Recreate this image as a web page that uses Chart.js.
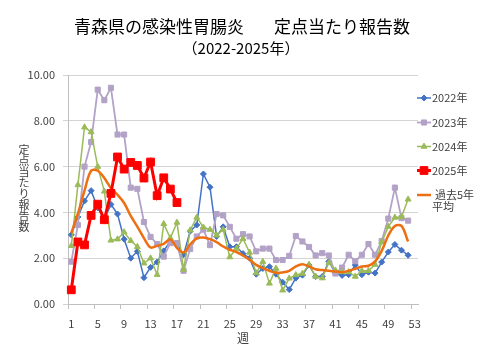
<!DOCTYPE html>
<html lang="ja">
<head>
<meta charset="utf-8">
<title>青森県の感染性胃腸炎 定点当たり報告数</title>
<script src="https://cdn.jsdelivr.net/npm/chart.js@4.4.1/dist/chart.umd.min.js"></script>
<style>
    html, body { margin: 0; padding: 0; background: #fff; }
    #wrap { position: relative; width: 480px; height: 360px; }
</style>
</head>
<body>
<div id="wrap"><canvas id="chart" width="480" height="360"></canvas></div>
<script>
    const weeks = ['1', '2', '3', '4', '5', '6', '7', '8', '9', '10', '11', '12', '13', '14', '15', '16', '17', '18',
        '19', '20', '21', '22', '23', '24', '25', '26', '27', '28', '29', '30', '31', '32', '33', '34', '35', '36',
        '37', '38', '39', '40', '41', '42', '43', '44', '45', '46', '47', '48', '49', '50', '51', '52', '53'];

    const y2022 = [3.02, 3.8, 4.5, 4.95, 4.2, 3.7, 4.35, 3.93, 2.83, 2.0, 2.3, 1.15, 1.6, 1.83, 2.32, 2.75, 2.62, 2.15,
        3.18, 3.45, 5.68, 5.1, 2.95, 3.37, 2.5, 2.5, 2.2, 2.0, 1.3, 1.55, 1.63, 1.3, 0.95, 0.63, 1.13, 1.26,
        1.7, 1.2, 1.2, 1.86, 1.35, 1.25, 1.28, 1.7, 1.28, 1.39, 1.35, 1.83, 2.27, 2.6, 2.35, 2.13];
    const y2023 = [1.85, 3.45, 6.0, 7.07, 9.36, 8.9, 9.44, 7.4, 7.4, 5.08, 5.03, 3.58, 2.93, 2.62, 2.07, 2.66, 2.66, 1.45,
        2.4, 2.95, 3.25, 2.57, 3.93, 3.87, 3.37, 2.85, 3.05, 2.95, 2.3, 2.42, 2.42, 1.92, 1.92, 2.1, 2.97, 2.73,
        2.49, 2.12, 2.22, 2.12, 1.33, 1.59, 2.15, 1.87, 2.15, 2.62, 2.15, 2.75, 3.73, 5.08, 3.75, 3.64];
    const y2024 = [2.54, 5.2, 7.72, 7.51, 6.0, 4.92, 2.78, 2.83, 3.14, 2.76, 2.5, 1.78, 2.0, 1.28, 3.5, 2.88, 3.56, 1.5,
        3.22, 3.78, 3.35, 3.25, 3.0, 3.25, 2.05, 2.42, 2.85, 2.25, 1.35, 1.85, 0.9, 1.55, 0.6, 1.12, 1.27, 1.33,
        1.72, 1.2, 1.13, 1.8, 1.47, 1.4, 1.4, 1.2, 1.45, 1.45, 1.72, 2.7, 3.38, 3.78, 3.8, 4.57];
    const y2025 = [0.62, 2.71, 2.58, 3.87, 4.36, 3.68, 4.83, 6.42, 5.89, 6.18, 6.05, 5.5, 6.2, 4.73, 5.51, 5.02, 4.43];
    const avg5y = [3.1, 3.95, 4.95, 5.82, 5.82, 5.5, 5.06, 4.77, 4.41, 3.85, 3.38, 2.88, 2.47, 2.54, 2.63, 2.82, 2.45, 2.25,
        2.6, 2.87, 2.9, 2.83, 2.7, 2.51, 2.37, 2.27, 2.12, 1.93, 1.71, 1.57, 1.45, 1.36, 1.38, 1.45, 1.64, 1.74,
        1.64, 1.52, 1.48, 1.45, 1.42, 1.39, 1.45, 1.54, 1.64, 1.67, 1.86, 2.32, 2.99, 3.41, 3.41, 2.73];

    const TITLE_LEFT = '青森県の感染性胃腸炎';
    const TITLE_RIGHT = '定点当たり報告数';
    const SUBTITLE = '（2022-2025年）';
    const Y_TITLE = '定点当たり報告数';
    const X_TITLE = '週';

    const FONT = '"Noto Sans CJK JP", "Noto Sans", sans-serif';
    const TEXT = '#404040';
    const GRID = '#D4D4D4';

    const series = [
        { label: '2022年', data: y2022, color: '#4472C4', style: 'rectRot', radius: 3, width: 1.5, order: 4 },
        { label: '2023年', data: y2023, color: '#B3A2C7', style: 'rect', radius: 3.6, width: 1.8, order: 3 },
        { label: '2024年', data: y2024, color: '#9BBB59', style: 'triangle', radius: 3.4, width: 1.5, order: 2 },
        { label: '2025年', data: y2025, color: '#FF0000', style: 'rect', radius: 5.5, width: 3, order: 0 },
        { label: ['過去5年', '平均'], data: avg5y, color: '#EE6F12', style: false, radius: 0, width: 2.5, order: 1 },
    ];

    // title, vertical y title and the legend on the right are painted here
    const decorations = {
        id: 'decorations',
        afterDraw(chart) {
            const ctx = chart.ctx;
            ctx.save();
            ctx.fillStyle = '#000';
            ctx.textBaseline = 'middle';
            ctx.textAlign = 'left';
            ctx.font = `17px ${FONT}`;
            ctx.fillText(TITLE_LEFT, 74, 27);
            ctx.fillText(TITLE_RIGHT, 274, 27);
            ctx.textAlign = 'center';
            ctx.font = `15px ${FONT}`;
            ctx.fillText(SUBTITLE, 241, 48);

            ctx.fillStyle = TEXT;
            ctx.font = `11px ${FONT}`;
            [...Y_TITLE].forEach((ch, i) => ctx.fillText(ch, 24, 150 + i * 11));

            const rows = [98, 122.5, 146.5, 170.5, 195];
            series.forEach((s, i) => {
                const y = rows[i];
                ctx.strokeStyle = s.color;
                ctx.lineWidth = s.width;
                ctx.beginPath();
                ctx.moveTo(417, y);
                ctx.lineTo(431, y);
                ctx.stroke();
                if (s.style) {
                    ctx.fillStyle = s.color;
                    ctx.lineWidth = 1;
                    Chart.helpers.drawPoint(ctx, { pointStyle: s.style, radius: s.radius, rotation: 0, borderWidth: 1 }, 424, y);
                }
                ctx.fillStyle = TEXT;
                ctx.textAlign = 'left';
                ctx.font = `11px ${FONT}`;
                if (Array.isArray(s.label)) {
                    ctx.fillText(s.label[0], 435, y);
                    ctx.fillText(s.label[1], 432, y + 12);
                } else {
                    ctx.fillText(s.label, 432, y);
                }
            });
            ctx.restore();
        },
    };

    new Chart(document.getElementById('chart'), {
        type: 'line',
        data: {
            labels: weeks,
            datasets: series.map((s) => ({
                label: Array.isArray(s.label) ? s.label.join('') : s.label,
                data: s.data,
                borderColor: s.color,
                backgroundColor: s.color,
                borderWidth: s.width,
                pointStyle: s.style,
                pointRadius: s.radius,
                pointBorderWidth: 1,
                pointHoverRadius: s.radius,
                tension: s.style ? 0 : 0.35,
                order: s.order,
                fill: false,
            })),
        },
        options: {
            responsive: false,
            animation: false,
            layout: { padding: { top: 75, right: 62, bottom: 0, left: 0 } },
            plugins: { legend: { display: false }, tooltip: { enabled: false } },
            scales: {
                x: {
                    type: 'category',
                    offset: true,
                    afterFit: (scale) => { scale.height = 56; },
                    grid: {
                        offset: true,
                        drawOnChartArea: false,
                        tickLength: 5,
                        color: (c) => (c.index !== undefined && c.index % 4 === 0 ? '#BFBFBF' : 'rgba(0,0,0,0)'),
                    },
                    border: { color: '#BFBFBF' },
                    ticks: {
                        autoSkip: false,
                        maxRotation: 0,
                        padding: 8,
                        color: TEXT,
                        font: { family: FONT, size: 11 },
                        callback: (v, i) => (i % 4 === 0 ? weeks[i] : ''),
                    },
                    title: {
                        display: true,
                        text: X_TITLE,
                        color: TEXT,
                        font: { family: FONT, size: 12 },
                        padding: { top: 0, bottom: 14 },
                    },
                },
                y: {
                    min: 0,
                    max: 10,
                    afterFit: (scale) => { scale.width = 68; },
                    grid: { color: GRID, tickLength: 5 },
                    border: { color: '#BFBFBF' },
                    ticks: {
                        stepSize: 2,
                        padding: 8,
                        color: TEXT,
                        font: { family: FONT, size: 11 },
                        callback: (v) => v.toFixed(2),
                    },
                },
            },
        },
        plugins: [decorations],
    });
</script>
</body>
</html>
